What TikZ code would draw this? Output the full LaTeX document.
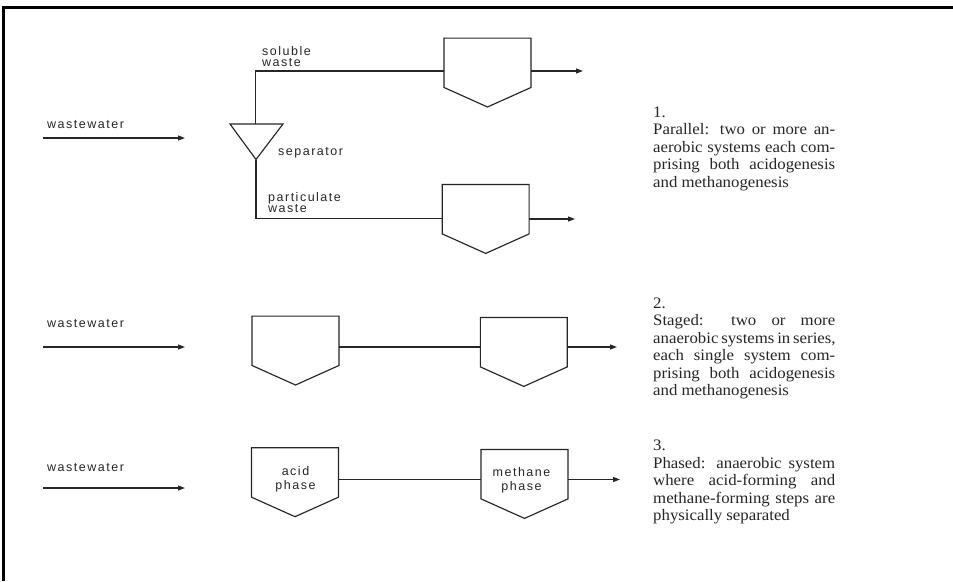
\documentclass[tikz,border=0pt]{standalone}
\usepackage{fontspec}
\setmainfont{Liberation Serif}[FakeStretch=1.05]
\newfontfamily\lblfont[LetterSpace=12]{Liberation Sans}
\usetikzlibrary{arrows.meta,calc}
\definecolor{ink}{HTML}{262626}
\newcommand\tankpath[1]{\draw[flow,line join=miter] (#1.north west) -- (#1.north east) -- (#1.south east) -- ($(#1.south)+(0pt,-19.5pt)$) -- (#1.south west) -- cycle;}
\begin{document}
\begin{tikzpicture}[x=1pt,y=-1pt,
  flow/.style={draw=ink,line width=1.15pt},
  arr/.style={flow,-{Triangle[length=7pt,width=5pt]}},
  lbl/.style={font=\lblfont\fontsize{12.5}{10.8}\selectfont,text=ink,inner sep=0pt,align=left},
  inlbl/.style={lbl,font=\lblfont\fontsize{12.5}{14}\selectfont,align=center},
  desc/.style={font=\fontsize{16}{17.5}\selectfont,text=ink,inner sep=0pt,align=left,anchor=north west},
  tank/.style={rectangle,minimum width=86.5pt,minimum height=49pt,inner sep=0pt},
]
\fill[white] (0,0) rectangle (953,581);
\useasboundingbox (0,0) rectangle (953,581);
% frame
\draw[black,line width=3pt,line join=miter] (3,581) -- (3,7.5) -- (953,7.5);

% ---------- section 1 ----------
\node[lbl,anchor=base west] (ww1) at (47,128) {wastewater};
\coordinate (i1s) at (43,138);
\coordinate (i1e) at (185,138);
\draw[arr] (i1s) -- (i1e);

\coordinate (sepL) at (230,124);
\coordinate (sepR) at (283,124);
\coordinate (sepApex) at (256,159.5);
\coordinate (sepTop) at (255.5,124);
\draw[flow,line join=miter] (sepL) -- (sepR) -- (sepApex) -- cycle;
\node[lbl,anchor=base west] (sep) at (278,155) {separator};

\node[tank] (t1a) at (487.5,62.8) {};
\node[tank] (t1b) at (485.7,209.2) {};
\tankpath{t1a}
\tankpath{t1b}
\coordinate (y1a) at (0,71);
\coordinate (y1b) at (0,218.5);
\draw[flow] (sepTop) |- (t1a.west |- y1a);
\draw[flow] (sepApex) |- (t1b.west |- y1b);
\coordinate (o1a) at (583,71);
\coordinate (o1b) at (575,219);
\draw[arr] (t1a.east |- y1a) -- (o1a);
\draw[arr] (t1b.east |- o1b) -- (o1b);
\node[lbl,anchor=north west] (sol) at (262,46) {soluble\\waste};
\node[lbl,anchor=north west] (part) at (268,192.5) {particulate\\waste};

\node[desc] (d1) at (653,106.7) {1.\\
\makebox[182pt][s]{Parallel: two or more an-}\\
\makebox[182pt][s]{aerobic systems each com-}\\
\makebox[182pt][s]{prising both acidogenesis}\\
and methanogenesis};

% ---------- section 2 ----------
\node[lbl,anchor=base west] (ww2) at (47,327) {wastewater};
\coordinate (i2s) at (43,347);
\coordinate (i2e) at (185,347);
\draw[arr] (i2s) -- (i2e);
\node[tank] (t2a) at (295.5,340.8) {};
\node[tank] (t2b) at (523.8,342.2) {};
\tankpath{t2a}
\tankpath{t2b}
\coordinate (y2) at (0,347);
\coordinate (o2) at (617,347);
\draw[flow] (t2a.east |- y2) -- (t2b.west |- y2);
\draw[arr] (t2b.east |- y2) -- (o2);

\node[desc] (d2) at (653,297.7) {2.\\
\makebox[182pt][s]{Staged: two or more}\\
\makebox[182pt][s]{anaerobic systems in series,}\\
\makebox[182pt][s]{each single system com-}\\
\makebox[182pt][s]{prising both acidogenesis}\\
and methanogenesis};

% ---------- section 3 ----------
\node[lbl,anchor=base west] (ww3) at (47,471) {wastewater};
\coordinate (i3s) at (43,488);
\coordinate (i3e) at (185,488);
\draw[arr] (i3s) -- (i3e);
\node[tank] (t3a) at (295,472.5) {};
\node[tank] (t3b) at (524.5,474.2) {};
\tankpath{t3a}
\tankpath{t3b}
\node[inlbl] (acid) at (295.5,479) {acid\\phase};
\node[inlbl] (meth) at (521.5,480) {methane\\phase};
\coordinate (y3) at (0,479.5);
\coordinate (o3) at (620,479.5);
\draw[flow] (t3a.east |- y3) -- (t3b.west |- y3);
\draw[arr] (t3b.east |- y3) -- (o3);

\node[desc] (d3) at (653,439.7) {3.\\
\makebox[182pt][s]{Phased: anaerobic system}\\
\makebox[182pt][s]{where acid-forming and}\\
\makebox[182pt][s]{methane-forming steps are}\\
physically separated};
\end{tikzpicture}
\end{document}
